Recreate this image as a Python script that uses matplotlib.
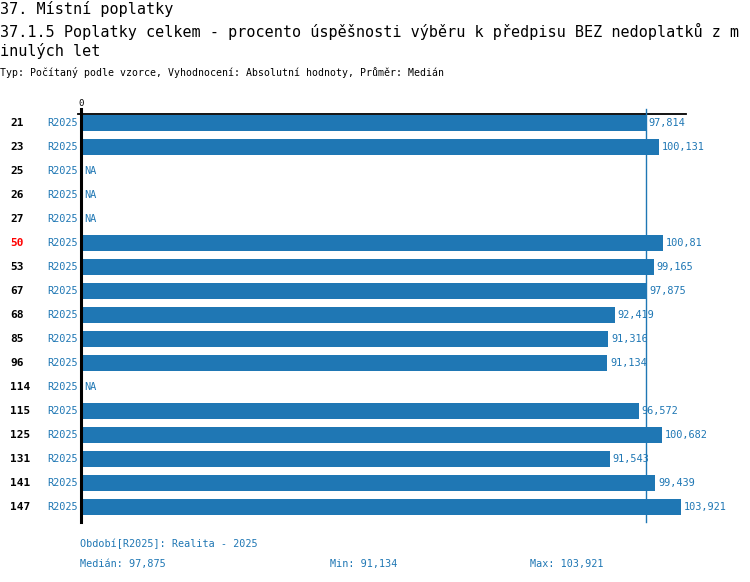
import matplotlib
matplotlib.use("Agg")
import matplotlib.pyplot as plt
import numpy as np

# data
kody = ["21", "23", "25", "26", "27", "50", "53", "67", "68", "85", "96",
        "114", "115", "125", "131", "141", "147"]
hodnoty = [97.814, 100.131, None, None, None, 100.81, 99.165, 97.875, 92.419,
           91.316, 91.134, None, 96.572, 100.682, 91.543, 99.439, 103.921]
obdobi = "R2025"
zvyrazneny = "50"
median = 97.875
minimum = 91.134
maximum = 103.921

W, H = 750, 582
modra = "#1f77b4"
font = "DejaVu Sans Mono"
plt.rcParams['font.family'] = [font]

fig = plt.figure(figsize=(W / 100, H / 100), dpi=100)

def fy(py):
    return 1 - py / H

def fx(px):
    return px / W

# axes placement in pixels
ax_l, ax_r, ax_t, ax_b = 81, 686, 114, 522
ax = fig.add_axes([fx(ax_l), fy(ax_b), fx(ax_r - ax_l), (ax_b - ax_t) / H])
px_per_unit = (681 - 81) / 103.921
xmax = (ax_r - ax_l) / px_per_unit
ax.set_xlim(0, xmax)
n = len(kody)
ax.set_ylim(n - 1 + 15 / 24, -9 / 24)
ax.axis("off")

y = np.arange(n)
for i, (k, v) in enumerate(zip(kody, hodnoty)):
    if v is not None:
        ax.barh(i, v, height=16 / 24, color=modra, clip_on=False)
        ax.text(v + 3 / px_per_unit, i, f"{v:g}".replace(".", ","),
                color=modra, fontsize=7.4, va="center", ha="left", clip_on=False)
    else:
        ax.text(3 / px_per_unit, i, "NA", color=modra, fontsize=7.4,
                va="center", ha="left")
    ty = 123 + 24 * i
    fig.text(fx(10), fy(ty), k, fontsize=8, fontweight="bold", va="center",
             ha="left", color="red" if k == zvyrazneny else "black")
    fig.text(fx(78), fy(ty), obdobi, fontsize=7.4, va="center", ha="right",
             color=modra)

# axis lines
top = -9 / 24
ax.plot([-3 / px_per_unit, xmax], [top, top], color="black", lw=1.3,
        clip_on=False, zorder=3)
ax.plot([0, 0], [top - 5 / 24, n - 1 + 15 / 24], color="black", lw=2.2,
        clip_on=False, zorder=3)
ax.plot([median, median], [top - 5 / 24, n - 1 + 15 / 24], color=modra,
        lw=1.0, clip_on=False, zorder=3)
fig.text(fx(81), fy(103), "0", fontsize=6.5, ha="center", va="center")

# titles
fig.text(0, fy(9), "37. Místní poplatky", fontsize=10.9, va="center", ha="left")
fig.text(0, fy(31), "37.1.5 Poplatky celkem - procento úspěšnosti výběru k předpisu BEZ nedoplatků z m",
         fontsize=10.9, va="center", ha="left")
fig.text(0, fy(51), "inulých let", fontsize=10.9, va="center", ha="left")
fig.text(0, fy(73), "Typ: Počítaný podle vzorce, Vyhodnocení: Absolutní hodnoty, Průměr: Medián",
         fontsize=7.1, va="center", ha="left")

# footer
def cz(v):
    return f"{v:g}".replace(".", ",")

fig.text(fx(80), fy(544), "Období[R2025]: Realita - 2025", fontsize=7.3,
         color=modra, va="center", ha="left")
fig.text(fx(80), fy(564), f"Medián: {cz(median)}", fontsize=7.3, color=modra,
         va="center", ha="left")
fig.text(fx(330), fy(564), f"Min: {cz(minimum)}", fontsize=7.3, color=modra,
         va="center", ha="left")
fig.text(fx(530), fy(564), f"Max: {cz(maximum)}", fontsize=7.3, color=modra,
         va="center", ha="left")

fig.savefig("out.png", dpi=100)
